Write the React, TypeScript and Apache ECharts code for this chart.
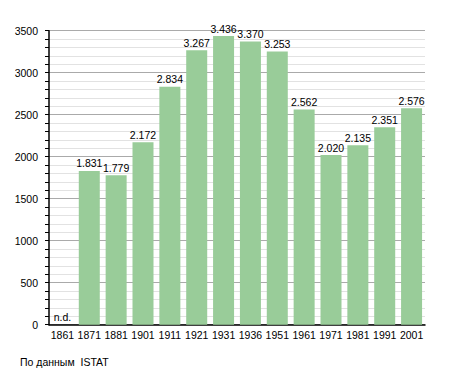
import React, { useEffect, useRef } from "react";
import * as echarts from "echarts";

const years = ["1861", "1871", "1881", "1901", "1911", "1921", "1931", "1936", "1951", "1961", "1971", "1981", "1991", "2001"];
const population: (number | null)[] = [null, 1831, 1779, 2172, 2834, 3267, 3436, 3370, 3253, 2562, 2020, 2135, 2351, 2576];
const yTicks = { min: 0, max: 3500, interval: 500 };
const sourceNote = "По данным\u00a0\u00a0ISTAT";
const missingLabel = "n.d.";

const fmt = (v: number) => {
  const s = String(v);
  return s.length > 3 ? s.slice(0, s.length - 3) + "." + s.slice(s.length - 3) : s;
};

export default function App() {
  const ref = useRef<HTMLDivElement>(null);
  useEffect(() => {
    if (!ref.current) return;
    const chart = echarts.init(ref.current, null, { renderer: "svg" });
    const font = "'Liberation Sans', Arial, sans-serif";
    chart.setOption({
      animation: false,
      backgroundColor: "#ffffff",
      textStyle: { fontFamily: font },
      grid: { left: 49, right: 30, top: 30.7, bottom: 48.3, containLabel: false },
      xAxis: {
        type: "category",
        data: years,
        axisLine: { show: true, lineStyle: { color: "#000", width: 1.5 } },
        axisTick: { show: false },
        axisLabel: { color: "#000", fontSize: 10.5, margin: 5, interval: 0, fontFamily: font },
        splitLine: { show: false },
      },
      yAxis: {
        type: "value",
        min: yTicks.min,
        max: yTicks.max,
        interval: yTicks.interval,
        axisLine: { show: true, lineStyle: { color: "#000", width: 1.5 } },
        axisTick: { show: true, length: 4, lineStyle: { color: "#000" } },
        minorTick: { show: true, splitNumber: 5, length: 4, lineStyle: { color: "#000" } },
        axisLabel: {
          color: "#000",
          fontSize: 10.5,
          margin: 11,
          fontFamily: font,
          formatter: (v: number) => String(v),
        },
        splitLine: { show: true, lineStyle: { color: "#aaaaaa", width: 1 } },
        minorSplitLine: { show: true, lineStyle: { color: "#e2e2e2", width: 1 } },
      },
      series: [
        {
          type: "bar",
          barWidth: 21,
          data: population.map((v) =>
            v === null
              ? { value: 0, label: { show: true, position: "top", distance: 2, formatter: missingLabel } }
              : v
          ),
          itemStyle: { color: "#99cc99" },
          label: {
            show: true,
            position: "top",
            distance: 2,
            color: "#000",
            fontSize: 10.5,
            fontFamily: font,
            formatter: (p: any) => fmt(p.value),
          },
        },
      ],
      graphic: [
        {
          type: "text",
          left: 20,
          top: 356,
          style: { text: sourceNote, fill: "#000", fontSize: 10.5, fontFamily: font },
        },
      ],
    });
    return () => chart.dispose();
  }, []);
  return <div ref={ref} style={{ position: "fixed", left: 0, top: 0, width: 455, height: 373 }} />;
}
